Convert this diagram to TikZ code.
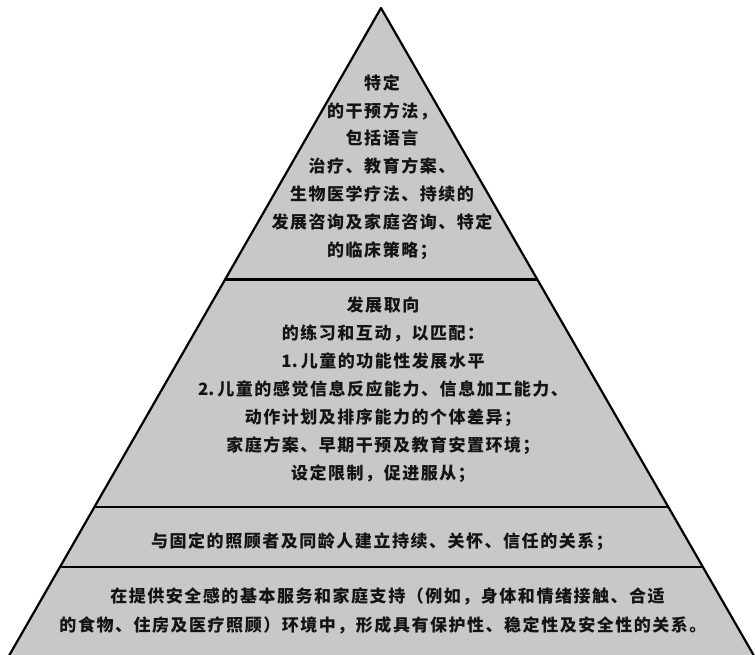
\documentclass[tikz,border=0pt]{standalone}
\usepackage{fontspec}
\newfontfamily\cjk{Noto Sans CJK SC}[LetterSpace=9]
\newfontfamily\cjkplain{Noto Sans CJK SC}
\usetikzlibrary{calc}
\definecolor{pyrgray}{RGB}{200,200,200}
\definecolor{inkcol}{RGB}{20,20,20}
\newcommand{\numlab}[1]{{\cjkplain\bfseries #1\hspace{3pt}}}
\tikzset{
  txt/.style={align=center, inner sep=0pt, text=inkcol,
    font=\cjk\bfseries\fontsize{17}{#1}\selectfont},
  edge/.style={draw=black, line width=2.2pt, line cap=round, line join=round},
}
\begin{document}
\begin{tikzpicture}[x=1pt,y=-1pt]
\useasboundingbox (0,0) rectangle (755,654);
\clip (0,0) rectangle (755,654);
\coordinate (apex) at (381,8);
\coordinate (bl) at (10,654);
\coordinate (br) at (753,654);
\coordinate (blx) at ($(apex)!1.02!(bl)$);
\coordinate (brx) at ($(apex)!1.02!(br)$);
% body
\fill[pyrgray] (apex) -- (blx) -- (brx) -- cycle;
% sides
\draw[edge] (blx) -- (apex) -- (brx);
% level dividers
\coordinate (l1) at ($(apex)!0.4203!(bl)$);
\coordinate (r1) at ($(apex)!0.4203!(br)$);
\coordinate (l2) at ($(apex)!0.7729!(bl)$);
\coordinate (r2) at ($(apex)!0.7729!(br)$);
\coordinate (l3) at ($(apex)!0.8649!(bl)$);
\coordinate (r3) at ($(apex)!0.8649!(br)$);
\draw[edge, line cap=butt] (l1) -- (r1);
\draw[edge, line cap=butt] (l2) -- (r2);
\draw[edge, line cap=butt] (l3) -- (r3);
% texts
\node[txt=27.9] (t1) at (382,167) {特定\\的干预方法，\\包括语言\\治疗、教育方案、\\生物医学疗法、持续的\\发展咨询及家庭咨询、特定\\的临床策略；};
\node[txt=28] (t2) at (383,390) {发展取向\\的练习和互动，以匹配：\\\numlab{1.}儿童的功能性发展水平\\\numlab{2.}儿童的感觉信息反应能力、信息加工能力、\\动作计划及排序能力的个体差异；\\家庭方案、早期干预及教育安置环境；\\设定限制，促进服从；};
\node[txt=28] (t3) at (382,541.7) {与固定的照顾者及同龄人建立持续、关怀、信任的关系；};
\node[txt=28.8] (t4) at (383,611) {\hspace*{9pt}在提供安全感的基本服务和家庭支持（例如，身体和情绪接触、合适\\的食物、住房及医疗照顾）环境中，形成具有保护性、稳定性及安全性的关系。};
\end{tikzpicture}
\end{document}
